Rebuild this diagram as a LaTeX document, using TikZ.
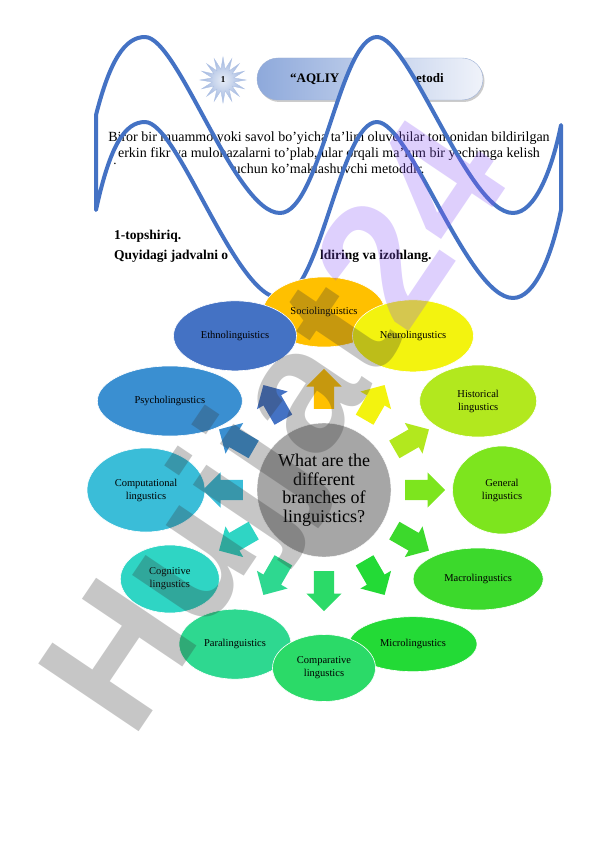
\documentclass[tikz,border=0pt]{standalone}
\usepackage{fontspec}
\setmainfont{Liberation Serif}
\newfontfamily\stampfont{Liberation Sans}
\usetikzlibrary{shapes.geometric,shapes.arrows,shadows,calc}
\definecolor{waveblue}{HTML}{4472C4}
\definecolor{badgeleft}{HTML}{8EA9DB}
\definecolor{badgeright}{HTML}{F0F3FA}
\definecolor{badgeline}{HTML}{9AAED4}
\definecolor{starblue}{HTML}{9DB4DE}
\definecolor{hubgray}{HTML}{A6A6A6}
\definecolor{sociocol}{HTML}{FFC000}
\definecolor{neurocol}{HTML}{F3F30F}
\definecolor{histcol}{HTML}{B2E81E}
\definecolor{generalcol}{HTML}{7DE51E}
\definecolor{macrocol}{HTML}{3CD92C}
\definecolor{microcol}{HTML}{23DA36}
\definecolor{comparcol}{HTML}{2BDA68}
\definecolor{paracol}{HTML}{2ED890}
\definecolor{cogncol}{HTML}{2FD5C4}
\definecolor{computcol}{HTML}{3ABDD8}
\definecolor{psychocol}{HTML}{3A8FD1}
\definecolor{ethnocol}{HTML}{4472C4}
\definecolor{stampgray}{HTML}{333333}
\definecolor{stamppurple}{HTML}{8A55F7}

\begin{document}
\begin{tikzpicture}[
  x=1pt, y=1pt,
  % Styles
  title/.style={anchor=base west, inner sep=0pt, font=\fontsize{13}{15}\selectfont\bfseries},
  para/.style={align=center, inner sep=0pt, font=\fontsize{14}{15.7}\selectfont},
  task/.style={anchor=base west, inner sep=0pt, font=\fontsize{13.5}{15}\selectfont\bfseries},
  wave/.style={draw=waveblue, line width=4pt, line join=round},
  hubnode/.style={circle, fill=hubgray, draw=white, minimum size=134pt, inner sep=0pt,
    align=center, font=\fontsize{18}{18.5}\selectfont},
  branch/.style={ellipse, draw=white, line width=0.6pt, inner sep=0pt, align=center,
    font=\fontsize{10.5}{13}\selectfont},
  spoke/.style={single arrow, inner xsep=0pt, inner ysep=10pt, single arrow head extend=7.5pt,
    minimum height=40pt, anchor=tail},
  stamp/.style={anchor=base west, inner sep=0pt, opacity=0.28,
    font=\stampfont\bfseries\fontsize{176}{176}\selectfont},
]
\useasboundingbox (0,0) rectangle (596,-842);

% === Header badge ===
\node[rectangle, rounded corners=21pt, minimum width=226pt, minimum height=42pt,
  left color=badgeleft, right color=badgeright, draw=badgeline,
  drop shadow={shadow xshift=1.5pt, shadow yshift=-2pt, fill=black!40}] (badge) at (370,-79) {};
\node[star, star points=16, star point ratio=2.1, minimum size=46pt, inner sep=0pt,
  inner color=white!75!starblue, outer color=starblue, draw=starblue!80!white,
  font=\fontsize{9}{9}\selectfont\bfseries] (num) at (223,-80) {1};

% === Wave band ===
\path[fill=white, save path=\wavecurve] (96,-115) .. controls (110,-60) and (125,-37) .. (145,-37)
  .. controls (178,-37) and (235,-213) .. (280,-213)
  .. controls (320,-213) and (340,-37) .. (377,-37)
  .. controls (410,-37) and (468,-213) .. (513,-213)
  .. controls (535,-213) and (552,-170) .. (561,-125)
  -- (561,-210)
  .. controls (552,-255) and (535,-298) .. (513,-298)
  .. controls (468,-298) and (410,-122) .. (377,-122)
  .. controls (340,-122) and (320,-298) .. (280,-298)
  .. controls (235,-298) and (178,-122) .. (145,-122)
  .. controls (125,-122) and (110,-145) .. (96,-210) -- cycle;

% === Texts ===
\node[title] (titleL) at (290,-83) {“AQLIY};
\node[title] (titleR) at (416,-83) {etodi};
\node[para, anchor=north] (intro) at (329,-132) {Biror bir muammo yoki savol bo’yicha ta’lim oluvchilar tomonidan bildirilgan\\
  erkin fikr va mulohazalarni to’plab, ular orqali ma’lum bir yechimga kelish\\
  uchun ko’maklashuvchi metoddir.};
\node[anchor=base, inner sep=0pt, font=\fontsize{13}{15}\selectfont] (dot) at (115,-165) {.};
\node[task] (task) at (114,-240) {1-topshiriq.};
\node[task] (askL) at (114,-259) {Quyidagi jadvalni o};
\node[task] (askR) at (320,-259) {ldiring va izohlang.};

\draw[wave, use path=\wavecurve];

% === Hub ===
\node[hubnode] (hub) at (324,-490) {What are the\\ different\\ branches of\\ linguistics?};

% === Branches ===
\node[branch, fill=sociocol, minimum width=122pt, minimum height=70pt] (socio) at ($(hub)+(90:178)$) {Sociolinguistics};
\node[branch, fill=neurocol, minimum width=121pt, minimum height=72pt] (neuro) at ($(hub)+(60:178)$) {Neurolingustics};
\node[branch, fill=histcol, minimum width=117pt, minimum height=72pt] (hist) at ($(hub)+(30:178)$) {Historical\\lingustics};
\node[branch, fill=generalcol, minimum width=99pt, minimum height=88pt] (general) at ($(hub)+(0:178)$) {General\\lingustics};
\node[branch, fill=macrocol, minimum width=130pt, minimum height=62pt] (macro) at ($(hub)+(-30:178)$) {Macrolingustics};
\node[branch, fill=microcol, minimum width=128pt, minimum height=55pt] (micro) at ($(hub)+(-60:178)$) {Microlingustics};
\node[branch, fill=paracol, minimum width=112pt, minimum height=70pt] (para) at ($(hub)+(-120:178)$) {Paralinguistics};
\node[branch, fill=comparcol, minimum width=103pt, minimum height=67pt] (compar) at ($(hub)+(-90:178)$) {Comparative\\lingustics};
\node[branch, fill=cogncol, minimum width=99pt, minimum height=68pt] (cogn) at ($(hub)+(-150:178)$) {Cognitive\\lingustics};
\node[branch, fill=computcol, minimum width=118pt, minimum height=84pt] (comput) at ($(hub)+(180:178)$) {Computational\\lingustics};
\node[branch, fill=psychocol, minimum width=145pt, minimum height=70pt] (psycho) at ($(hub)+(150:178)$) {Psycholingustics};
\node[branch, fill=ethnocol, minimum width=123pt, minimum height=70pt] (ethno) at ($(hub)+(120:178)$) {Ethnolinguistics};

% === Block arrows ===
\node[spoke, fill=sociocol, rotate=90] (toSocio) at ($(hub)+(90:81)$) {};
\node[spoke, fill=neurocol, rotate=60] (toNeuro) at ($(hub)+(60:81)$) {};
\node[spoke, fill=histcol, rotate=30] (toHist) at ($(hub)+(30:81)$) {};
\node[spoke, fill=generalcol, rotate=0] (toGeneral) at ($(hub)+(0:81)$) {};
\node[spoke, fill=macrocol, rotate=-30] (toMacro) at ($(hub)+(-30:81)$) {};
\node[spoke, fill=microcol, rotate=-60] (toMicro) at ($(hub)+(-60:81)$) {};
\node[spoke, fill=comparcol, rotate=-90] (toCompar) at ($(hub)+(-90:81)$) {};
\node[spoke, fill=paracol, rotate=-120] (toPara) at ($(hub)+(-120:81)$) {};
\node[spoke, fill=cogncol, rotate=-150] (toCogn) at ($(hub)+(-150:81)$) {};
\node[spoke, fill=computcol, rotate=180] (toComput) at ($(hub)+(180:81)$) {};
\node[spoke, fill=psychocol, rotate=150] (toPsycho) at ($(hub)+(150:81)$) {};
\node[spoke, fill=ethnocol, rotate=120] (toEthno) at ($(hub)+(120:81)$) {};

% === Watermark ===
\node[stamp, rotate=56] (mark) at (132,-742) {{\color{stampgray}Hujjat}{\color{stamppurple}24}};

\end{tikzpicture}
\end{document}
